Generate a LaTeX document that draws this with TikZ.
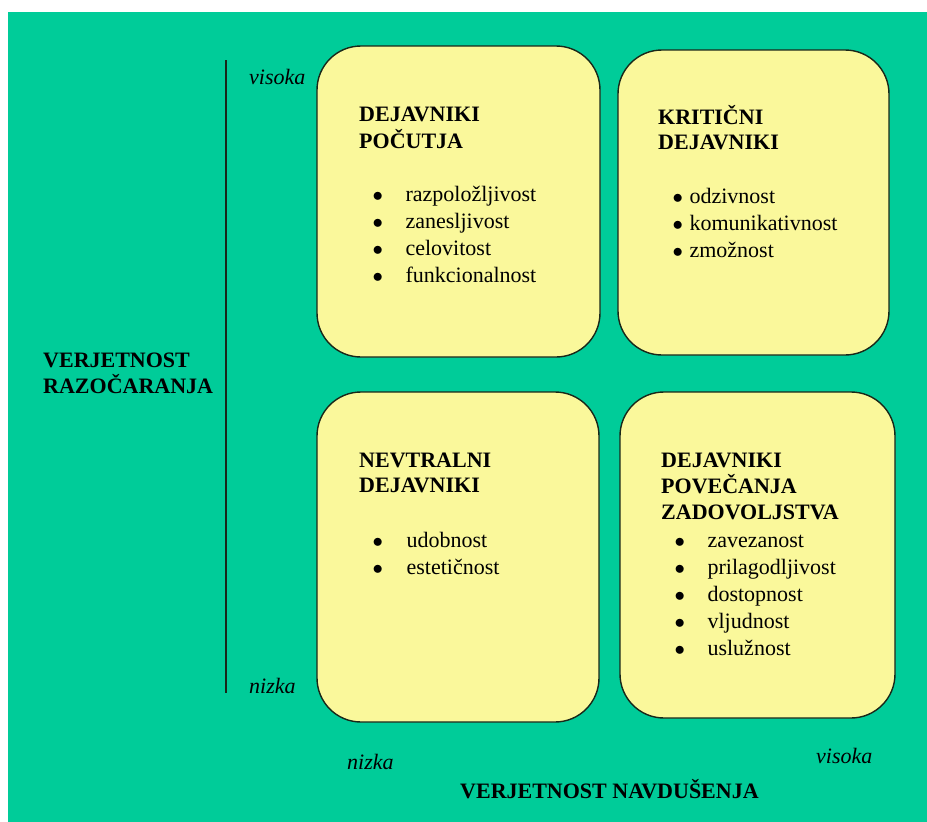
\documentclass[tikz,border=0pt]{standalone}
\usepackage{fontspec}
\setmainfont{Liberation Serif}
\definecolor{bggreen}{RGB}{0,204,153}
\definecolor{boxyellow}{RGB}{250,248,155}
\definecolor{edgedark}{RGB}{25,40,25}
\newcommand{\blob}{$\bullet$}

\begin{document}
\begin{tikzpicture}[x=1pt,y=-1pt,
  every node/.style={inner sep=0pt,anchor=base west},
  quad/.style={draw=edgedark,fill=boxyellow,line width=1.4pt,rounded corners=44pt,anchor=center},
  head/.style={font=\fontsize{22}{25.5}\selectfont\bfseries},
  items/.style={font=\fontsize{22}{27}\selectfont},
  axlabel/.style={font=\fontsize{22}{26}\selectfont\bfseries},
  level/.style={font=\fontsize{22}{26}\selectfont\itshape}]
  \useasboundingbox (0,0) rectangle (927,822);
  \fill[white] (0,0) rectangle (927,822);
  \fill[bggreen] (8,12) rectangle (927,822);
  % the four quadrants
  \node[quad,minimum width=283pt,minimum height=311pt] (pocutja) at (458.5,201.5) {};
  \node[quad,minimum width=271pt,minimum height=305pt] (kriticni) at (753.5,202.5) {};
  \node[quad,minimum width=282pt,minimum height=330pt] (nevtralni) at (458,557) {};
  \node[quad,minimum width=275pt,minimum height=326pt] (povecanja) at (757.5,555) {};
  % titles and lists
  \node[head] (pocutjahead) at (359,121.7) {\begin{tabular}[t]{@{}l@{}}DEJAVNIKI\\POČUTJA\end{tabular}};
  \node[items] (pocutjalist) at (372.5,201.7) {\begin{tabular}[t]{@{}l@{\hspace{22.5pt}}l@{}}
    \blob & razpoložljivost\\ \blob & zanesljivost\\
    \blob & celovitost\\ \blob & funkcionalnost\end{tabular}};
  \node[head] (kriticnihead) at (658,124.3) {\begin{tabular}[t]{@{}l@{}}KRITIČNI\\DEJAVNIKI\end{tabular}};
  \node[items] (kriticnilist) at (672.5,203) {\begin{tabular}[t]{@{}l@{\hspace{6.5pt}}l@{}}
    \blob & odzivnost\\ \blob & komunikativnost\\
    \blob & zmožnost\end{tabular}};
  \node[head] (nevtralnihead) at (359,467) {\begin{tabular}[t]{@{}l@{}}NEVTRALNI\\DEJAVNIKI\end{tabular}};
  \node[items] (nevtralnilist) at (372.5,547) {\begin{tabular}[t]{@{}l@{\hspace{23.5pt}}l@{}}
    \blob & udobnost\\ \blob & estetičnost\end{tabular}};
  \node[head] (povecanjahead) at (661,467) {\begin{tabular}[t]{@{}l@{}}DEJAVNIKI\\POVEČANJA\\ZADOVOLJSTVA\end{tabular}};
  \node[items] (povecanjalist) at (674.5,547) {\begin{tabular}[t]{@{}l@{\hspace{22.5pt}}l@{}}
    \blob & zavezanost\\ \blob & prilagodljivost\\
    \blob & dostopnost\\ \blob & vljudnost\\
    \blob & uslužnost\end{tabular}};
  % axes
  \coordinate (axtop) at (226,60);
  \coordinate (axbot) at (226,693);
  \draw[edgedark,line width=1.5pt] (axtop) -- (axbot);
  \node[level] (yhigh) at (249,84) {visoka};
  \node[level] (ylow) at (249,693) {nizka};
  \node[level] (xlow) at (347,769) {nizka};
  \node[level] (xhigh) at (816,763) {visoka};
  \node[axlabel] (ylabel) at (43,367) {\begin{tabular}[t]{@{}l@{}}VERJETNOST\\RAZOČARANJA\end{tabular}};
  \node[axlabel] (xlabel) at (460,798) {VERJETNOST NAVDUŠENJA};
\end{tikzpicture}
\end{document}
